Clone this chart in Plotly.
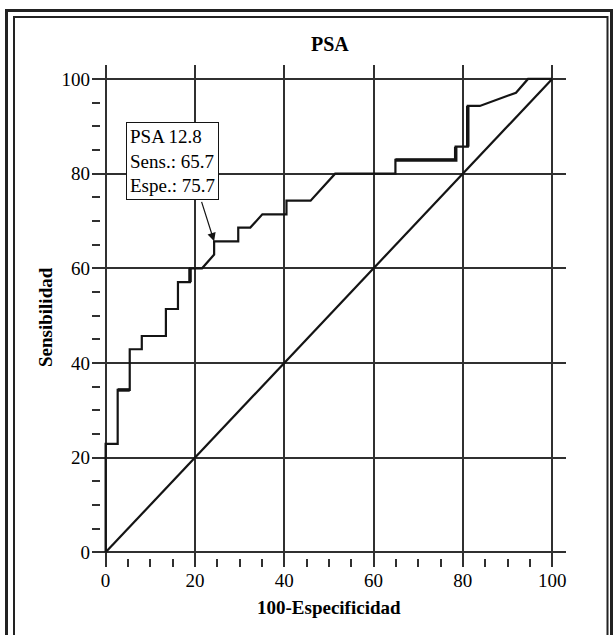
import plotly.graph_objects as go

# ROC curve for PSA (100-Especificidad vs Sensibilidad)
fpr = [0, 0, 2.7, 2.7, 5.4, 5.4, 8.1, 8.1, 13.5, 13.5, 16.2, 16.2, 18.9, 18.9,
       21.6, 24.3, 24.3, 29.7, 29.7, 32.4, 35.1, 40.5, 40.5, 45.9, 51.4, 64.9,
       64.9, 78.4, 78.4, 81.1, 81.1, 83.8, 91.9, 94.6, 100]
sens = [0, 22.9, 22.9, 34.3, 34.3, 42.9, 42.9, 45.7, 45.7, 51.4, 51.4, 57.1, 57.1, 60.0,
        60.0, 62.9, 65.7, 65.7, 68.6, 68.6, 71.4, 71.4, 74.3, 74.3, 80.0, 80.0,
        82.9, 82.9, 85.7, 85.7, 94.3, 94.3, 97.1, 100, 100]

# segments drawn heavier in the original (overlapping steps)
thick_x = [2.7, 5.4, None, 18.9, 18.9, None, 64.9, 78.4, 78.4, None, 81.1, 81.1]
thick_y = [34.3, 34.3, None, 57.1, 60.0, None, 82.9, 82.9, 85.7, None, 85.7, 94.3]

diag_x = [0, 100]
diag_y = [0, 100]

cut_x, cut_y = 24.3, 65.7
cut_label = "PSA 12.8<br>Sens.: 65.7<br>Espe.: 75.7"

x_ticks = [0, 20, 40, 60, 80, 100]
y_ticks = [0, 20, 40, 60, 80, 100]

FONT = "Liberation Serif, Times New Roman, serif"
INK = "#141414"
GRID = "#303030"

fig = go.Figure()
fig.add_trace(go.Scatter(x=diag_x, y=diag_y, mode="lines",
                         line=dict(color=INK, width=2.2), hoverinfo="skip"))
fig.add_trace(go.Scatter(x=fpr, y=sens, mode="lines",
                         line=dict(color=INK, width=2.2), hoverinfo="skip"))
fig.add_trace(go.Scatter(x=thick_x, y=thick_y, mode="lines",
                         line=dict(color=INK, width=3.5), hoverinfo="skip",
                         connectgaps=False))

W, H = 613, 635
L, T = 92, 65
R = W - 566
B = H - 567
pw, ph = W - L - R, H - T - B


def px2paper_x(px):
    return (px - L) / pw


def px2paper_y(py):
    return (H - B - py) / ph


axis_common = dict(
    showgrid=True, gridcolor=GRID, gridwidth=2,
    zeroline=True, zerolinecolor=GRID, zerolinewidth=2,
    showline=False, ticks="",
    tickfont=dict(family=FONT, size=19, color="black"),
    minor=dict(ticks="inside", ticklen=8, tickwidth=2, tickcolor=GRID,
               dtick=5, showgrid=False),
    fixedrange=True,
)

fig.update_xaxes(range=[-3.05, 103.1], tickvals=x_ticks, **axis_common)
fig.update_yaxes(range=[-3.1, 102.95], tickvals=y_ticks, ticklabelstandoff=1,
                 **axis_common)

annotations = [
    dict(text="<b>PSA</b>", xref="paper", yref="paper",
         x=px2paper_x(330), y=px2paper_y(44), showarrow=False,
         font=dict(family=FONT, size=20, color="black"),
         xanchor="center", yanchor="middle"),
    dict(text="<b>100-Especificidad</b>", xref="paper", yref="paper",
         x=px2paper_x(329), y=px2paper_y(607), showarrow=False,
         font=dict(family=FONT, size=19, color="black"),
         xanchor="center", yanchor="middle"),
    dict(text="<b>Sensibilidad</b>", xref="paper", yref="paper",
         x=px2paper_x(45), y=px2paper_y(317), showarrow=False, textangle=-90,
         font=dict(family=FONT, size=19, color="black"),
         xanchor="center", yanchor="middle"),
    # arrow to the cut-off point
    dict(text="", x=cut_x, y=cut_y, xref="x", yref="y",
         showarrow=True, ax=-13, ay=-41, axref="pixel", ayref="pixel",
         arrowhead=2, arrowsize=1.4, arrowwidth=1.2, arrowcolor=INK),
    # label box
    dict(text=cut_label, xref="paper", yref="paper",
         x=px2paper_x(126), y=px2paper_y(122), xanchor="left", yanchor="top",
         showarrow=False, align="left",
         font=dict(family=FONT, size=19, color="black"),
         bgcolor="white", bordercolor=INK, borderwidth=1, borderpad=3),
]

shapes = [
    dict(type="rect", xref="paper", yref="paper",
         x0=px2paper_x(6.5), x1=px2paper_x(611.5),
         y0=px2paper_y(10.5), y1=px2paper_y(660),
         line=dict(color="#222222", width=3), fillcolor="rgba(0,0,0,0)", layer="below"),
    dict(type="rect", xref="paper", yref="paper",
         x0=px2paper_x(14), x1=px2paper_x(607.5),
         y0=px2paper_y(17), y1=px2paper_y(660),
         line=dict(color="#222222", width=2), fillcolor="rgba(0,0,0,0)", layer="below"),
]

fig.update_layout(
    width=W, height=H,
    margin=dict(l=L, r=R, t=T, b=B, autoexpand=False),
    paper_bgcolor="white", plot_bgcolor="white",
    showlegend=False,
    annotations=annotations,
    shapes=shapes,
    font=dict(family=FONT, color="black"),
)

fig.write_html(
    "out.html",
    config={"displayModeBar": False, "staticPlot": True},
    post_script="document.body.style.margin='0';document.body.style.overflow='hidden';",
)
